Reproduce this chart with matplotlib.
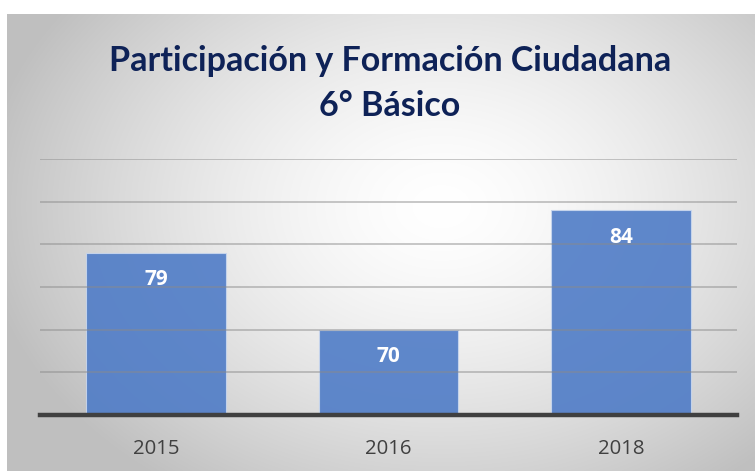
import numpy as np
import matplotlib
matplotlib.use("Agg")
import matplotlib.pyplot as plt

categories = ["2015", "2016", "2018"]
values = [79, 70, 84]
title_lines = ["Participación y Formación Ciudadana", "6° Básico"]

W, H = 755, 471
fig = plt.figure(figsize=(W / 100, H / 100), dpi=100)
fig.patch.set_facecolor("white")

# background panel with radial gradient
bg = fig.add_axes([7 / W, 0, 1 - 7 / W, 1 - 14 / H])
bg.set_axis_off()
ny, nx = 300, 480
yy, xx = np.mgrid[0:ny, 0:nx]
cx, cy = 0.58 * nx, 0.42 * ny
r = np.sqrt(((xx - cx) / (0.62 * nx)) ** 2 + ((yy - cy) / (0.75 * ny)) ** 2)
r = np.clip(r, 0, 1)
shade = 1.0 - 0.25 * r ** 1.5
img = np.dstack([shade, shade, shade])
bg.imshow(img, aspect="auto", extent=[0, 1, 0, 1], interpolation="bilinear")
bg.set_xlim(0, 1)
bg.set_ylim(0, 1)

# main axes
left, right = 40, 737
top, bottom = 159, 415
ax = fig.add_axes([left / W, 1 - bottom / H, (right - left) / W, (bottom - top) / H])
ax.patch.set_alpha(0)
x = np.arange(len(categories))
bars = ax.bar(x, values, width=0.6, color="#4f7cc7", alpha=0.9,
              edgecolor="#c9d7ee", linewidth=0.8, zorder=2)
ax.set_xlim(-0.5, len(categories) - 0.5)
ax.set_ylim(60, 90)
for yv in range(65, 91, 5):
    ax.axhline(yv, color="#8a8a8a", alpha=0.55, linewidth=1.2, zorder=3)
ax.axhline(60, color="#404040", linewidth=3.2, zorder=4, clip_on=False)
for s in ax.spines.values():
    s.set_visible(False)
ax.set_yticks([])
ax.set_xticks(x)
ax.set_xticklabels(categories, fontsize=14.7, color="#404040", family="Open Sans")
ax.tick_params(axis="x", length=0, pad=17)

for xi, v in zip(x, values):
    ax.annotate(str(v), (xi, v), xytext=(0, -19.5), textcoords="offset points",
                ha="center", va="center", color="white", fontsize=15,
                fontweight="bold", family="Open Sans", zorder=5)

fig.text(390 / W, 1 - 61 / H, title_lines[0], ha="center", va="center",
         fontsize=24.5, fontweight="bold", color="#0e2257", family="Lato")
fig.text(390 / W, 1 - 106 / H, title_lines[1], ha="center", va="center",
         fontsize=24.5, fontweight="bold", color="#0e2257", family="Lato")

fig.savefig("out.png", dpi=100)
